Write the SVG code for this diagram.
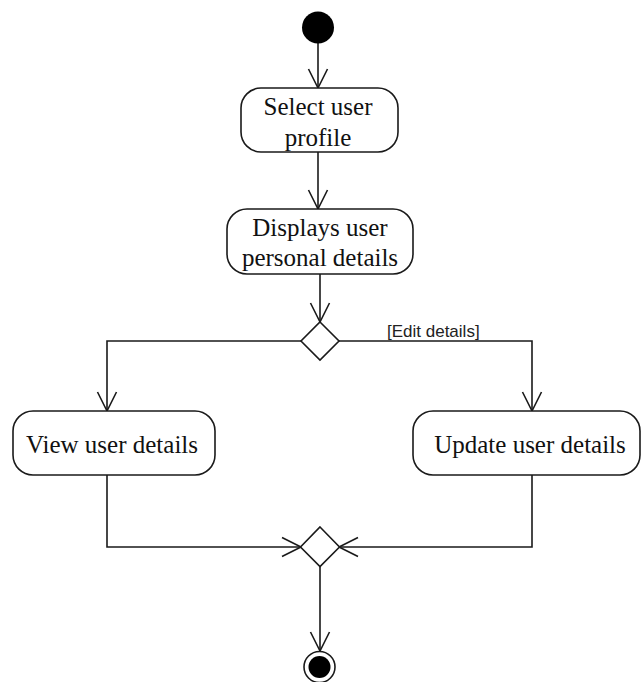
<svg xmlns="http://www.w3.org/2000/svg" width="641" height="682" viewBox="0 0 641 682">
  <style>
    .act { fill: #ffffff; stroke: #1a1a1a; stroke-width: 1.6; }
    .lbl { font-family: "Liberation Serif", "Times New Roman", serif; font-size: 25px; fill: #111111; text-anchor: middle; }
    .guard { font-family: "Liberation Sans", Arial, sans-serif; font-size: 17px; fill: #222222; }
    .flow { fill: none; stroke: #1a1a1a; stroke-width: 1.6; }
    .dot { fill: #000000; }
  </style>
  <defs>
    <marker id="open" markerUnits="userSpaceOnUse" viewBox="-1 -1 22 22" refX="19" refY="9.5" markerWidth="22" markerHeight="22" orient="auto" overflow="visible">
      <path d="M0,0 L19,9.5 L0,19" fill="none" stroke="#1a1a1a" stroke-width="1.6"/>
    </marker>
  </defs>
  <rect width="641" height="682" fill="#ffffff"/>

  <!-- connectors -->
  <g id="connectors">
    <path class="flow" d="M318,43 L318,88" marker-end="url(#open)"/>
    <path class="flow" d="M318,152 L318,209" marker-end="url(#open)"/>
    <path class="flow" d="M320,274 L320,322" marker-end="url(#open)"/>
    <path class="flow" d="M301,341 L107,341 L107,411" marker-end="url(#open)"/>
    <path class="flow" d="M339,341 L532,341 L532,411" marker-end="url(#open)"/>
    <text class="guard" x="387" y="337">[Edit details]</text>
    <path class="flow" d="M107,475 L107,547 L301,547" marker-end="url(#open)"/>
    <path class="flow" d="M532,475 L532,547 L339,547" marker-end="url(#open)"/>
    <path class="flow" d="M320,566 L320,651" marker-end="url(#open)"/>
  </g>

  <!-- initial node -->
  <g id="start">
    <circle class="dot" cx="318" cy="27.5" r="16"/>
  </g>

  <!-- actions -->
  <g id="select-profile">
    <rect class="act" x="241" y="88" width="157" height="64" rx="20" ry="20"/>
    <text class="lbl" x="318" y="115">Select user</text>
    <text class="lbl" x="318" y="146">profile</text>
  </g>

  <g id="display-details">
    <rect class="act" x="227" y="209" width="186" height="65" rx="20" ry="20"/>
    <text class="lbl" x="320" y="236">Displays user</text>
    <text class="lbl" x="320" y="266">personal details</text>
  </g>

  <!-- decision -->
  <g id="decision">
    <polygon class="act" points="320,322 339,341 320,360 301,341"/>
  </g>

  <g id="view-details">
    <rect class="act" x="13" y="411" width="202" height="64" rx="20" ry="20"/>
    <text class="lbl" x="112" y="453">View user details</text>
  </g>

  <g id="update-details">
    <rect class="act" x="413" y="411" width="227" height="64" rx="20" ry="20"/>
    <text class="lbl" x="530" y="453">Update user details</text>
  </g>

  <!-- merge -->
  <g id="merge">
    <polygon class="act" points="320,527 339.5,547 320,566.5 300.5,547"/>
  </g>

  <!-- final node -->
  <g id="end">
    <circle cx="319.5" cy="667" r="15.5" fill="#ffffff" stroke="#1a1a1a" stroke-width="1.6"/>
    <circle class="dot" cx="319.5" cy="667" r="11"/>
  </g>
</svg>
